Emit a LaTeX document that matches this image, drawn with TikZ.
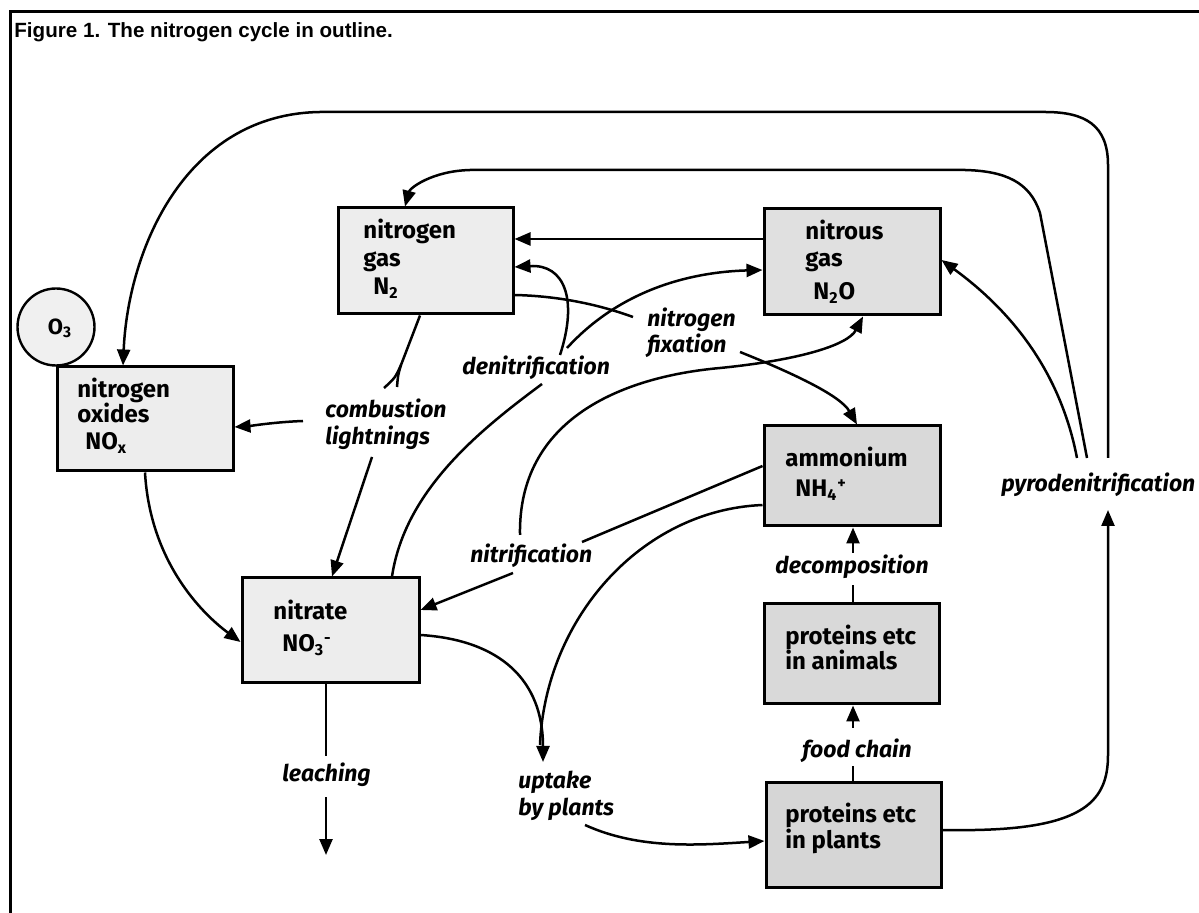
\documentclass[tikz,border=0pt]{standalone}
\usepackage{fontspec}
\setmainfont{Fira Sans}
\newfontfamily\titlefont{Liberation Sans}
\usetikzlibrary{arrows.meta}
\tikzset{
  box/.style={draw, line width=1.5pt, fill=#1, inner sep=0pt},
  conn/.style={line width=1.25pt},
  arr/.style={conn, -{Triangle[length=8pt,width=6.5pt]}},
  boxtxt/.style={anchor=base west, inner sep=0pt, font=\fontsize{12}{14}\selectfont\bfseries},
  lab/.style={anchor=base west, inner sep=0pt, font=\fontsize{11.5}{13.5}\selectfont\bfseries\itshape},
}
\begin{document}
\begin{tikzpicture}[x=0.5pt,y=-0.5pt]
\useasboundingbox (0,0) rectangle (1199,913);
% frame and title
\draw[line width=1.5pt] (10,913) -- (10,12) -- (1199,12);
\node[anchor=base west, inner sep=0pt, font=\titlefont\bfseries\fontsize{10.3}{12}\selectfont] (title) at (14,38) {Figure 1. The nitrogen cycle in outline.};

% boxes
\node[box=gray!14, minimum width=87.5pt, minimum height=53pt] (n2)  at (425.5,261) {};
\node[box=gray!24, minimum width=88pt,   minimum height=53pt] (n2o) at (852,262) {};
\node[box=gray!14, minimum width=88pt,   minimum height=52pt] (nox) at (145,419) {};
\node[box=gray!14, minimum width=88.5pt, minimum height=52.5pt] (no3) at (330.5,630.5) {};
\node[box=gray!30, minimum width=88pt,   minimum height=50pt] (nh4) at (852,476) {};
\node[box=gray!30, minimum width=87.5pt, minimum height=50pt] (ani) at (851.5,654) {};
\node[box=gray!32, minimum width=87.5pt, minimum height=52.5pt] (pla) at (853.5,834.5) {};
\node[draw, circle, line width=1.2pt, fill=gray!12, minimum size=38.5pt, inner sep=0pt] (o3) at (56,327) {};
\node[inner sep=0pt, font=\fontsize{11}{13}\selectfont\bfseries] (o3t) at (60,328) {O\textsubscript{3}};

% box texts
\node[boxtxt] (n2a) at (363,239) {nitrogen};
\node[boxtxt] (n2b) at (363,267) {gas};
\node[boxtxt] (n2c) at (373,295) {N\textsubscript{2}};
\node[boxtxt] (noxa) at (77,398) {nitrogen};
\node[boxtxt] (noxb) at (77,423) {oxides};
\node[boxtxt] (noxc) at (85,450) {NO\textsubscript{x}};
\node[boxtxt] (n2oa) at (805,240) {nitrous};
\node[boxtxt] (n2ob) at (805,267) {gas};
\node[boxtxt] (n2oc) at (813,300) {N\textsubscript{2}O};
\node[boxtxt] (nh4a) at (785,467) {ammonium};
\node[boxtxt] (nh4b) at (795,497) {NH\textsubscript{4}\textsuperscript{+}};
\node[boxtxt] (no3a) at (273,620) {nitrate};
\node[boxtxt] (no3b) at (282,652) {NO\textsubscript{3}\textsuperscript{-}};
\node[boxtxt] (ania) at (785,645) {proteins etc};
\node[boxtxt] (anib) at (785,670) {in animals};
\node[boxtxt] (plaa) at (785,822) {proteins etc};
\node[boxtxt] (plab) at (785,848) {in plants};

% labels
\node[lab] (comb1) at (325,418) {combustion};
\node[lab] (comb2) at (325,445) {lightnings};
\node[lab] (denit) at (462,375) {denitrification};
\node[lab] (fix1) at (647,327) {nitrogen};
\node[lab] (fix2) at (647,353) {fixation};
\node[lab] (nitri) at (470,563) {nitrification};
\node[lab] (up1) at (518,788) {uptake};
\node[lab] (up2) at (518,815) {by plants};
\node[lab] (leach) at (282,782) {leaching};
\node[lab] (decomp) at (775,574) {decomposition};
\node[lab] (food) at (802,757) {food chain};
\node[lab] (pyro) at (1001,492) {pyrodenitrification};

% label-side connector ends
\coordinate (p1) at (1077,458);
\coordinate (p2) at (1087,458);
\coordinate (p3) at (1108,510);
\coordinate (p4) at (1108,458);
\coordinate (d1) at (560,355);
\coordinate (d2) at (567,348);
\coordinate (d3) at (542,384);
\coordinate (f1) at (633,317);
\coordinate (f2) at (740,352);
\coordinate (t1) at (582,542);
\coordinate (t2) at (520,535);
\coordinate (t3) at (513,573);
\coordinate (u1) at (543,762);
\coordinate (u1m) at (540,745);
\coordinate (u2) at (585,825);
\coordinate (l1) at (326,756);
\coordinate (l2) at (326,797);
\coordinate (l3) at (326,855);
\coordinate (dc1) at (853,585);
\coordinate (dc2) at (853,553);
\coordinate (fc1) at (853,766);
\coordinate (fc2) at (853,728);
\coordinate (c0) at (401,365);
\coordinate (c1) at (384,388);
\coordinate (c2) at (397,387);
\coordinate (c3) at (303,421);
\coordinate (c4) at (372,457);

% pyrodenitrification
\draw[arr] (p4) -- (1108,165) .. controls (1108,125) and (1085,112) .. (1045,112) -- (320,112) .. controls (185,114) and (128,250) .. (nox.north -| 123,0);
\draw[arr] (p2) -- (1040,213) .. controls (1030,182) and (1005,171) .. (965,170) -- (470,170) .. controls (432,171) and (410,188) .. (n2.north -| 405,0);
\draw[arr] (p1) .. controls (1060,370) and (1010,310) .. (n2o.east |- 0,260);
\draw[arr] (pla.east |- 0,830) -- (975,830) .. controls (1085,828) and (1108,800) .. (1108,755) -- (p3);

% nitrous gas -> nitrogen gas
\draw[arr] (n2o.west |- 0,239) -- (n2.east |- 0,239);

% denitrification
\draw[conn] (no3.north -| 392,0) .. controls (405,490) and (480,430) .. (d3);
\draw[arr] (d1) .. controls (578,300) and (565,264) .. (n2.east |- 0,267);
\draw[arr] (d2) .. controls (620,290) and (690,272) .. (n2o.west |- 0,270);

% nitrogen fixation
\draw[conn] (n2.east |- 0,295) .. controls (560,296) and (600,305) .. (f1);
\draw[arr] (f2) .. controls (790,372) and (840,395) .. (nh4.north -| 857,0);

% nitrification
\draw[conn] (nh4.west |- 0,466) -- (t1);
\draw[arr] (t2) .. controls (518,420) and (620,377) .. (720,368) .. controls (800,360) and (848,345) .. (n2o.south -| 863,0);
\draw[arr] (t3) -- (no3.east |- 0,610);

% uptake by plants
\draw[arr] (no3.east |- 0,635) .. controls (500,640) and (543,680) .. (u1);
\draw[conn] (nh4.west |- 0,505) .. controls (640,510) and (545,620) .. (u1m);
\draw[arr] (u2) .. controls (640,850) and (700,845) .. (pla.west |- 0,841);

% leaching
\draw[conn] (no3.south -| 326,0) -- (l1);
\draw[arr] (l2) -- (l3);

% decomposition, food chain
\draw[conn] (ani.north -| 853,0) -- (dc1);
\draw[arr] (dc2) -- (nh4.south -| 853,0);
\draw[conn] (pla.north -| 853,0) -- (fc1);
\draw[arr] (fc2) -- (ani.south -| 853,0);

% combustion, lightnings
\draw[conn] (n2.south -| 420,0) -- (c0) .. controls (395,378) .. (c1);
\draw[conn] (c0) .. controls (398,375) .. (c2);
\draw[arr] (c3) .. controls (275,422) and (250,426) .. (nox.east |- 0,427);
\draw[arr] (c4) -- (no3.north -| 332,0);

% oxides -> nitrate
\draw[arr] (nox.south -| 145,0) .. controls (150,560) and (200,612) .. (no3.west |- 0,642);
\end{tikzpicture}
\end{document}
